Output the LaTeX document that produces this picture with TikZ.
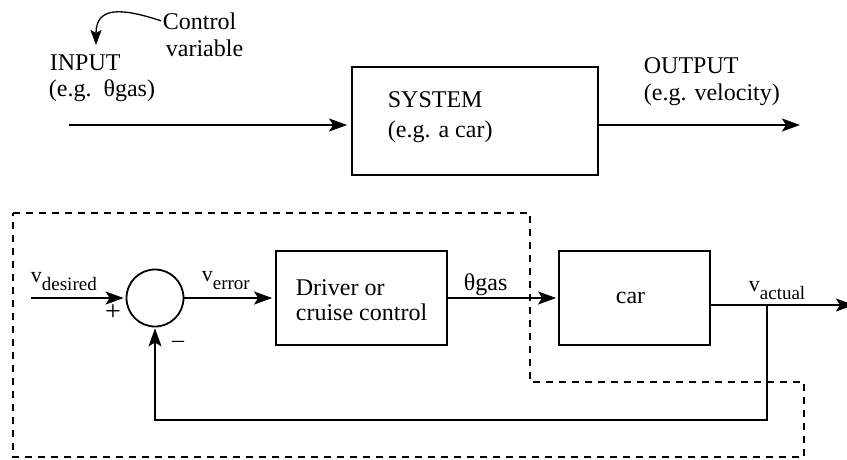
\documentclass[tikz,border=0pt]{standalone}
\usepackage{fontspec}
\setmainfont{Liberation Serif}
\usetikzlibrary{arrows.meta}
% signal name with a lowered subscript word
\newcommand{\signame}[2]{{\fontsize{22}{24}\selectfont #1}\raisebox{-8pt}{\fontsize{19}{20}\selectfont #2}}
\begin{document}
\begin{tikzpicture}[x=1pt,y=-1pt,
  line width=1.8pt,
  txt/.style={font=\fontsize{24}{28}\selectfont},
  lbl/.style={txt, anchor=base west, inner sep=0pt},
  blk/.style={txt, draw, rectangle, inner sep=0pt},
  sumnode/.style={draw, circle, inner sep=0pt, minimum size=57pt},
  flow/.style={-{Stealth[length=18pt,width=13pt,inset=4pt]}},
  region/.style={dash pattern=on 7pt off 6pt}
]
\useasboundingbox (0,0) rectangle (847,459);

% ---------- open-loop view ----------
\node[blk, minimum width=246pt, minimum height=108pt] (sys) at (475,121) {};
\coordinate (in0) at (69,125);
\coordinate (out1) at (800,125);
\draw[flow, shorten >=4pt] (in0) -- (in0 -| sys.west);
\draw[flow] (sys.east |- out1) -- (out1);

\node[lbl] (ctl) at (162,29) {Control};
\node[lbl] (var) at (165,56) {variable};
\node[lbl] (inp) at (49,70) {INPUT};
\node[lbl] (inpeg) at (48,96) {(e.g.\ \ θgas)};
\node[lbl] (sysl) at (387,107) {SYSTEM};
\node[lbl] (syseg) at (387,137) {(e.g. a car)};
\node[lbl] (outl) at (643,73) {OUTPUT};
\node[lbl] (outeg) at (643,100) {(e.g. velocity)};

\coordinate (cvtip) at (96,45);
\draw[-{Stealth[length=15pt,width=11pt,inset=3pt]}, line width=1.3pt]
  ([xshift=-1pt]ctl.west) .. controls (122,8) and (96,6) .. (cvtip);

% ---------- closed-loop view ----------
\draw[region] (13,213) -- (530,213) -- (530,382) -- (804,382)
  -- (804,457) -- (13,457) -- cycle;

\node[sumnode] (sum) at (155,298) {};
\node[blk, minimum width=171pt, minimum height=94pt] (drv) at (361.5,298) {};
\node[blk, minimum width=151pt, minimum height=94pt] (car) at (634.5,298) {\hspace*{-8pt}car};

\coordinate (vin) at (31,298);
\coordinate (br) at (767,305);
\coordinate (vout) at (854,305);
\coordinate (fb) at (767,420);

\draw[flow, shorten >=2pt] (vin) -- (sum.west);
\draw[flow, shorten >=3pt] (sum.east) -- (drv.west);
\draw[flow, shorten >=2pt] (drv.east) -- (car.west);
\draw[flow] (car.east |- br) -- (vout);
\draw[flow, shorten >=1pt] (br) -- (fb) -| (sum.south);

\node[lbl] (drvl1) at (295,295) {Driver or};
\node[lbl] (drvl2) at (295,320) {cruise control};
\node[lbl] (vd) at (30,282) {\signame{v}{desired}};
\node[lbl] (ve) at (201,281) {\signame{v}{error}};
\node[lbl] (gas) at (463,290) {θgas};
\node[lbl] (va) at (748,291) {\signame{v}{actual}};
\node[txt, inner sep=0pt, font=\fontsize{28}{30}\selectfont] (plus) at (113,313) {+};
\node[txt, inner sep=0pt] (minus) at (178,344) {–};
\end{tikzpicture}
\end{document}
